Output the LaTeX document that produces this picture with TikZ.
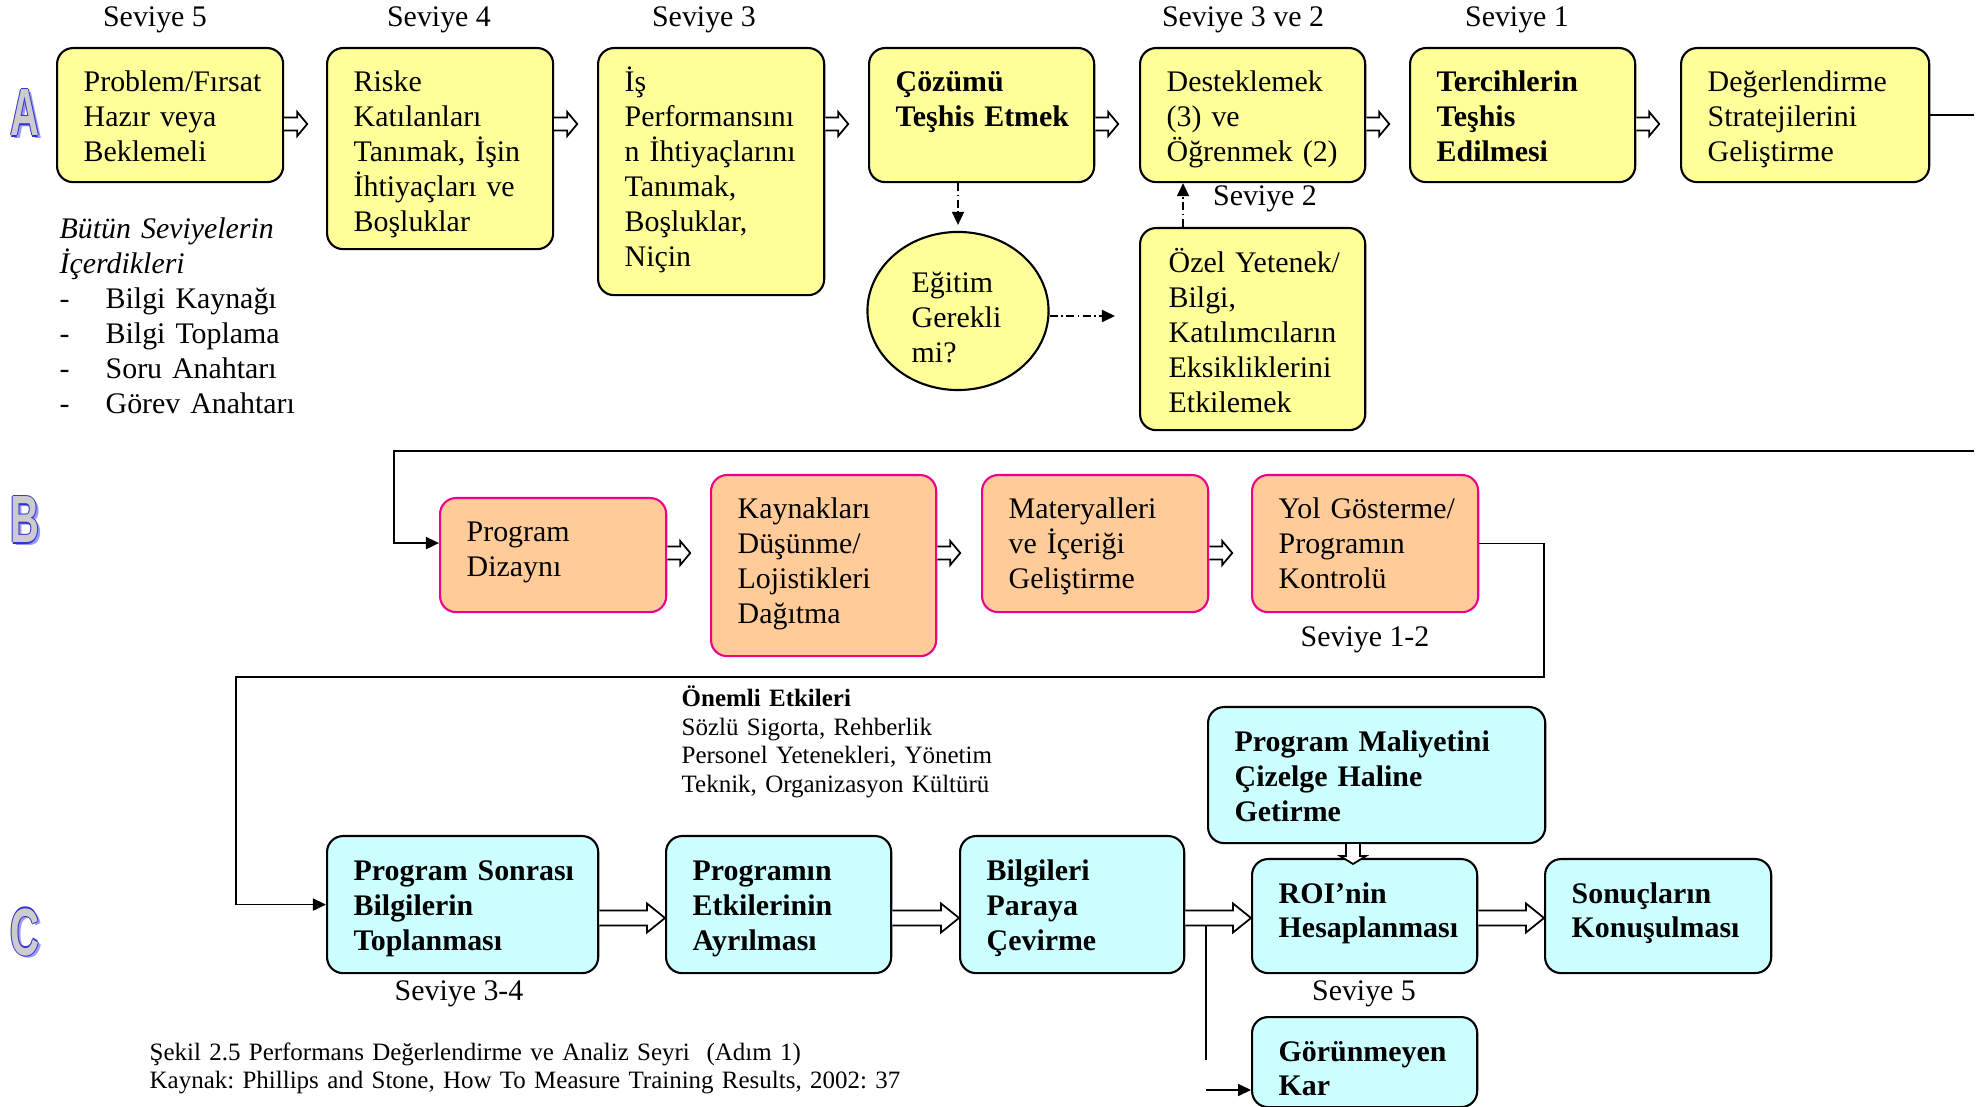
\documentclass[tikz,border=0pt]{standalone}
\usepackage{fontspec}
\setmainfont{Liberation Serif}
\setsansfont{Liberation Sans}
\usetikzlibrary{calc,arrows.meta,shapes.geometric}
\frenchspacing

\definecolor{boxyellow}{HTML}{FFFF99}
\definecolor{boxorange}{HTML}{FFCC99}
\definecolor{boxcyan}{HTML}{CCFFFF}
\definecolor{letterblue}{HTML}{3333CC}
\definecolor{lettershade}{HTML}{9999FF}

\newcommand{\hollowarrow}[5]{%
  \coordinate (hb) at ($(#2)!#5!(#1)$);
  \draw[hollow] ($(#1)!#3!90:(#2)$) -- ($(hb)!#3!90:(#2)$) -- ($(hb)!#4!90:(#2)$) -- (#2)
    -- ($(hb)!#4!-90:(#2)$) -- ($(hb)!#3!-90:(#2)$) -- ($(#1)!#3!-90:(#2)$);}

\begin{document}
\begin{tikzpicture}[x=0.01cm,y=-0.01cm,>={Triangle[length=0.13cm,width=0.12cm]},
  ybox/.style={draw,line width=0.6pt,rounded corners=0.16cm,fill=boxyellow,anchor=north west},
  obox/.style={ybox,draw=magenta,fill=boxorange},
  cbox/.style={ybox,fill=boxcyan},
  txt/.style={anchor=base west,align=left,text width=3.2cm,inner sep=0pt,font=\fontsize{8.5}{9.9}\selectfont},
  txtb/.style={txt,font=\fontsize{8.5}{9.9}\selectfont\bfseries},
  note/.style={txt,text width=8cm,font=\fontsize{7.1}{8.1}\selectfont},
  lbl/.style={anchor=base,inner sep=0pt,font=\fontsize{8.5}{9.9}\selectfont},
  letter/.style={inner sep=0pt,font=\sffamily\bfseries\fontsize{19}{19}\selectfont},
  wire/.style={line width=0.5pt},
  dd/.style={line width=0.5pt,dash pattern=on 0.08cm off 0.035cm on 0.015cm off 0.035cm,->},
  hollow/.style={draw,fill=white,line width=0.5pt}]
\useasboundingbox (0,0) rectangle (1982,1107);

\foreach \lett/\ypos in {A/113,B/520,C/932}{
  \node[letter,text=lettershade] (\lett-shade) at (28,\ypos+3) {\scalebox{0.6}[1]{\lett}};
  \foreach \dx/\dy [count=\k] in {-1.2/0,1.2/0,0/-1.2,0/1.2}
    \node[letter,text=letterblue] (\lett-rim\k) at (25+\dx,\ypos+\dy) {\scalebox{0.6}[1]{\lett}};
  \node[letter,text=gray!40] (\lett-face) at (25,\ypos) {\scalebox{0.6}[1]{\lett}};
}

\node[lbl] (lv5) at (155,27) {Seviye 5};
\node[lbl] (lv4) at (439,27) {Seviye 4};
\node[lbl] (lv3) at (704,27) {Seviye 3};
\node[lbl] (lv32) at (1243,27) {Seviye 3 ve 2};
\node[lbl] (lv1) at (1517,27) {Seviye 1};
\node[lbl] (lv2) at (1265,206) {Seviye 2};
\node[lbl] (lv12) at (1365,647) {Seviye 1-2};
\node[lbl] (lv34) at (459,1000) {Seviye 3-4};
\node[lbl] (lv5b) at (1364,1000) {Seviye 5};

\node[ybox,minimum width=2.26cm,minimum height=1.34cm] (a1) at (56,47) {};
\node[txt] (a1t) at ([shift={(27,45)}]a1.north west) {Problem/Fırsat\\Hazır veya\\Beklemeli};
\node[ybox,minimum width=2.26cm,minimum height=2.01cm] (a2) at (326,47) {};
\node[txt] (a2t) at ([shift={(27,45)}]a2.north west) {Riske\\Katılanları\\Tanımak, İşin\\İhtiyaçları ve\\Boşluklar};
\node[ybox,minimum width=2.26cm,minimum height=2.47cm] (a3) at (597,47) {};
\node[txt] (a3t) at ([shift={(27,45)}]a3.north west) {İş\\Performansını\\n İhtiyaçlarını\\Tanımak,\\Boşluklar,\\Niçin};
\node[ybox,minimum width=2.25cm,minimum height=1.34cm] (a4) at (868,47) {};
\node[txtb] (a4t) at ([shift={(27,45)}]a4.north west) {Çözümü\\Teşhis Etmek};
\node[ybox,minimum width=2.25cm,minimum height=1.34cm] (a5) at (1139,47) {};
\node[txt] (a5t) at ([shift={(27,45)}]a5.north west) {Desteklemek\\(3) ve\\Öğrenmek (2)};
\node[ybox,minimum width=2.25cm,minimum height=1.34cm] (a6) at (1409,47) {};
\node[txtb] (a6t) at ([shift={(27,45)}]a6.north west) {Tercihlerin\\Teşhis\\Edilmesi};
\node[ybox,minimum width=2.48cm,minimum height=1.34cm] (a7) at (1680,47) {};
\node[txt] (a7t) at ([shift={(27,45)}]a7.north west) {Değerlendirme\\Stratejilerini\\Geliştirme};
\node[ybox,minimum width=2.25cm,minimum height=2.02cm] (ozel) at (1139,227) {};
\node[txt] (ozelt) at ([shift={(29,46)}]ozel.north west) {Özel Yetenek/\\Bilgi,\\Katılımcıların\\Eksikliklerini\\Etkilemek};
\node[ellipse,draw,line width=0.6pt,fill=boxyellow,minimum width=1.81cm,minimum height=1.58cm,inner sep=0pt] (egitim) at (958,311) {};
\node[txt] (egitimt) at (911,293) {Eğitim\\Gerekli\\mi?};

\node[txt] (allsev) at (59,239) {\textit{Bütün Seviyelerin}\\\textit{İçerdikleri}\\\makebox[0.46cm][l]{-}Bilgi Kaynağı\\
  \makebox[0.46cm][l]{-}Bilgi Toplama\\\makebox[0.46cm][l]{-}Soru Anahtarı\\\makebox[0.46cm][l]{-}Görev Anahtarı};

\node[obox,minimum width=2.26cm,minimum height=1.14cm] (b1) at (439,497) {};
\node[txt] (b1t) at ([shift={(27,45)}]b1.north west) {Program\\Dizaynı};
\node[obox,minimum width=2.25cm,minimum height=1.81cm] (b2) at (710,474) {};
\node[txt] (b2t) at ([shift={(27,45)}]b2.north west) {Kaynakları\\Düşünme/\\Lojistikleri\\Dağıtma};
\node[obox,minimum width=2.26cm,minimum height=1.37cm] (b3) at (981,474) {};
\node[txt] (b3t) at ([shift={(27,45)}]b3.north west) {Materyalleri\\ve İçeriği\\Geliştirme};
\node[obox,minimum width=2.26cm,minimum height=1.37cm] (b4) at (1251,474) {};
\node[txt] (b4t) at ([shift={(27,45)}]b4.north west) {Yol Gösterme/\\Programın\\Kontrolü};

\node[note] (onemli) at (681,707) {\textbf{Önemli Etkileri}\\Sözlü Sigorta, Rehberlik\\Personel Yetenekleri, Yönetim\\Teknik, Organizasyon Kültürü};

\node[cbox,minimum width=2.71cm,minimum height=1.37cm] (c1) at (326,835) {};
\node[txtb] (c1t) at ([shift={(27,46)}]c1.north west) {Program Sonrası\\Bilgilerin\\Toplanması};
\node[cbox,minimum width=2.25cm,minimum height=1.37cm] (c2) at (665,835) {};
\node[txtb] (c2t) at ([shift={(27,46)}]c2.north west) {Programın\\Etkilerinin\\Ayrılması};
\node[cbox,minimum width=2.24cm,minimum height=1.37cm] (c3) at (959,835) {};
\node[txtb] (c3t) at ([shift={(27,46)}]c3.north west) {Bilgileri\\Paraya\\Çevirme};
\node[cbox,minimum width=3.37cm,minimum height=1.36cm] (cost) at (1207,706) {};
\node[txtb] (costt) at ([shift={(27,46)}]cost.north west) {Program Maliyetini\\Çizelge Haline\\Getirme};
\node[cbox,minimum width=2.25cm,minimum height=1.14cm] (c4) at (1251,858) {};
\node[txtb] (c4t) at ([shift={(27,45)}]c4.north west) {ROI’nin\\Hesaplanması};
\node[cbox,minimum width=2.26cm,minimum height=1.14cm] (c5) at (1544,858) {};
\node[txtb] (c5t) at ([shift={(27,45)}]c5.north west) {Sonuçların\\Konuşulması};
\node[cbox,minimum width=2.25cm,minimum height=0.9cm] (intang) at (1251,1016) {};
\node[txtb] (intangt) at ([shift={(27,45)}]intang.north west) {Görünmeyen\\Kar};

\node[note] (caption) at (149,1060) {Şekil 2.5 Performans Değerlendirme ve Analiz Seyri\ \ (Adım 1)\\Kaynak: Phillips and Stone, How To Measure Training Results, 2002: 37};

\coordinate (ya) at (0,124);
\coordinate (yb) at (0,553);
\coordinate (yc) at (0,918);
\coordinate (redge) at (1974,114);
\coordinate (bline) at (394,451);
\coordinate (bturn) at (1544,677);
\coordinate (cturn) at (236,677);
\coordinate (ktop) at (1206,925);
\coordinate (kbot) at (1206,1060);
\coordinate (kx) at (1206,1090);
\coordinate (xm) at (1353,0);

\foreach \s/\r in {a1/ya,a2/ya,a3/ya,a4/ya,a5/ya,a6/ya,b1/yb,b2/yb,b3/yb}{
  \coordinate (\s-tip) at ($(\s.east |- \r)+(23,0)$);
  \hollowarrow{\s.east |- \r}{\s-tip}{0.065cm}{0.12cm}{0.1cm}
}
\foreach \s/\t in {c1/c2,c2/c3,c3/c4,c4/c5}{
  \hollowarrow{\s.east |- yc}{\t.west |- yc}{0.075cm}{0.145cm}{0.18cm}
}
\coordinate (mtop) at (cost.south -| xm);
\coordinate (mtip) at ($(c4.north -| xm)+(0,6)$);
\hollowarrow{mtop}{mtip}{0.07cm}{0.13cm}{0.08cm}

\coordinate (eg) at ([yshift=-0.05cm]egitim.east);
\draw[dd,shorten >=0.06cm] (egitim.north |- a4.south) -- (egitim.north);
\draw[dd,shorten >=0.24cm] (eg) -- (eg -| ozel.west);
\draw[dd] ([xshift=0.44cm]ozel.north west) -- ([xshift=0.44cm]a5.south west);

\draw[wire] (a7.east) -- (a7.east -| redge);
\draw[wire,->] (redge |- bline) -- (bline) |- ([yshift=0.12cm]b1.west);
\draw[wire,->] (b4.east) -| (bturn) -- (cturn) |- (c1.west);
\draw[wire] (ktop) -- (kbot);
\draw[wire,->] (kx) -- (kx -| intang.west);
\end{tikzpicture}
\end{document}
